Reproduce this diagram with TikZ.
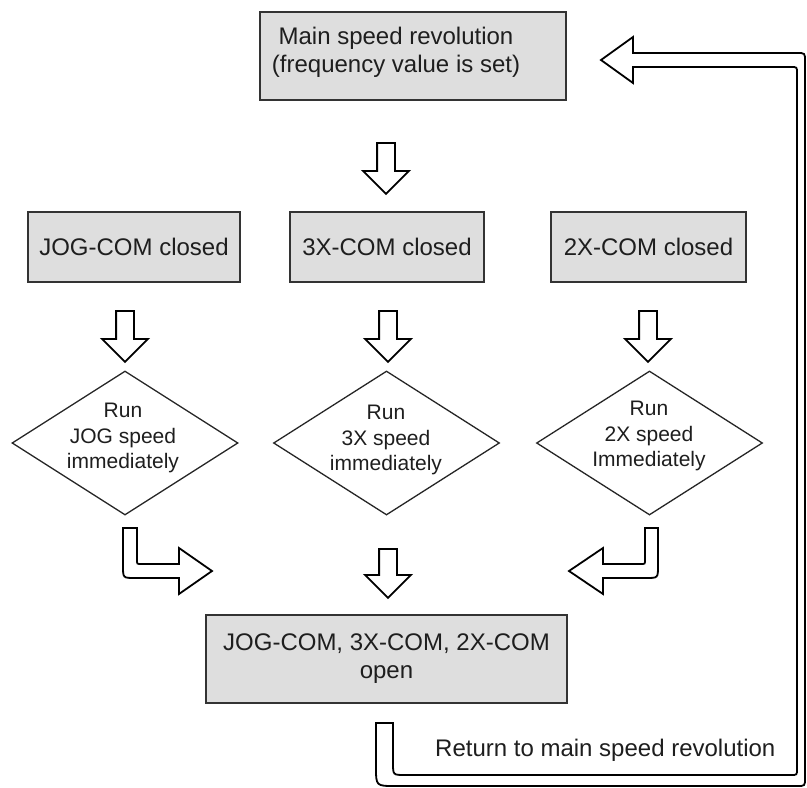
\documentclass[tikz,border=0pt]{standalone}
\usepackage{fontspec}
\setmainfont{Liberation Sans}
\usetikzlibrary{shapes.geometric,shapes.arrows}
\definecolor{boxgray}{HTML}{DEDEDE}
\definecolor{inkc}{HTML}{1E1E1E}
\begin{document}
\begin{tikzpicture}[x=1pt,y=-1pt,
  every node/.style={text=inkc},
  bigfont/.style={font=\fontsize{24}{28}\selectfont},
  smallfont/.style={font=\fontsize{21}{25.5}\selectfont},
  mbox/.style={draw=black!80, fill=boxgray, line width=1.5pt, inner sep=0pt, align=center, bigfont},
  btext/.style={inner sep=0pt, align=center, bigfont},
  dia/.style={diamond, draw=black!85, line width=1.3pt, inner sep=0pt, minimum width=226pt, minimum height=144pt},
  diatext/.style={inner sep=0pt, align=center, smallfont},
  darrow/.style={single arrow, draw=black, line width=1.8pt, fill=white, rotate=-90,
     inner xsep=0pt, inner ysep=8pt, text height=0pt, text depth=0pt, text width=0pt,
     single arrow head extend=14pt, single arrow head indent=0pt, single arrow tip angle=90,
     minimum height=51pt},
  barrow/.style={draw=black, line width=1.8pt, fill=white, line join=miter}
]
\useasboundingbox (0,0) rectangle (807,788);

% top box
\node[mbox, minimum width=306pt, minimum height=88pt] (main) at (413,56) {};
\node[btext] (maint) at (396,52) {Main speed revolution\\(frequency value is set)};

\node[darrow] (a0) at (386,164) {};

% row of boxes
\node[mbox, minimum width=212pt, minimum height=70pt] (jog) at (134,247) {JOG-COM closed};
\node[mbox, minimum width=194pt, minimum height=70pt] (tx) at (387,247) {3X-COM closed};
\node[mbox, minimum width=195pt, minimum height=70pt] (dx) at (648.5,247) {2X-COM closed};

\node[darrow] (a1) at (125,332) {};
\node[darrow] (a2) at (388,332) {};
\node[darrow] (a3) at (648,332) {};

% diamonds
\node[dia] (d1) at (125,443) {};
\node[dia] (d2) at (386.5,443) {};
\node[dia] (d3) at (649.5,443) {};
\node[diatext] (t1) at (123,438) {Run\\JOG speed\\immediately};
\node[diatext] (t2) at (386,440) {Run\\3X speed\\immediately};
\node[diatext] (t3) at (649,436) {Run\\2X speed\\Immediately};

% bent arrows
\draw[barrow] (123,528) -- (137,528) -- (137,560) .. controls (137,564) .. (141,564) -- (179,564) -- (179,548)
   -- (212,571) -- (179,594) -- (179,578) -- (135,578) .. controls (123,578) .. (123,566) -- cycle;
\draw[barrow] (658,528) -- (645,528) -- (645,560) .. controls (645,564) .. (641,564) -- (603,564) -- (603,548)
   -- (569,571) -- (603,594) -- (603,578) -- (646,578) .. controls (658,578) .. (658,566) -- cycle;

\node[darrow, minimum height=49pt] (a4) at (388,569) {};

% bottom box
\node[mbox, minimum width=361pt, minimum height=88pt] (open) at (386.5,659) {JOG-COM, 3X-COM, 2X-COM\\open};

% return arrow
\draw[barrow] (376,723) -- (393,723) -- (393,763) .. controls (393,775) .. (405,775) -- (791,775)
   .. controls (797,775) .. (797,769) -- (797,73) .. controls (797,67) .. (791,67) -- (633,67) -- (633,83)
   -- (601,60) -- (633,37) -- (633,53) -- (797,53) .. controls (805,53) .. (805,61) -- (805,778)
   .. controls (805,786) .. (797,786) -- (395,786) .. controls (376,786) .. (376,767) -- cycle;

\node[anchor=west, inner sep=0pt, bigfont] (ret) at (435,750) {Return to main speed revolution};
\end{tikzpicture}
\end{document}
